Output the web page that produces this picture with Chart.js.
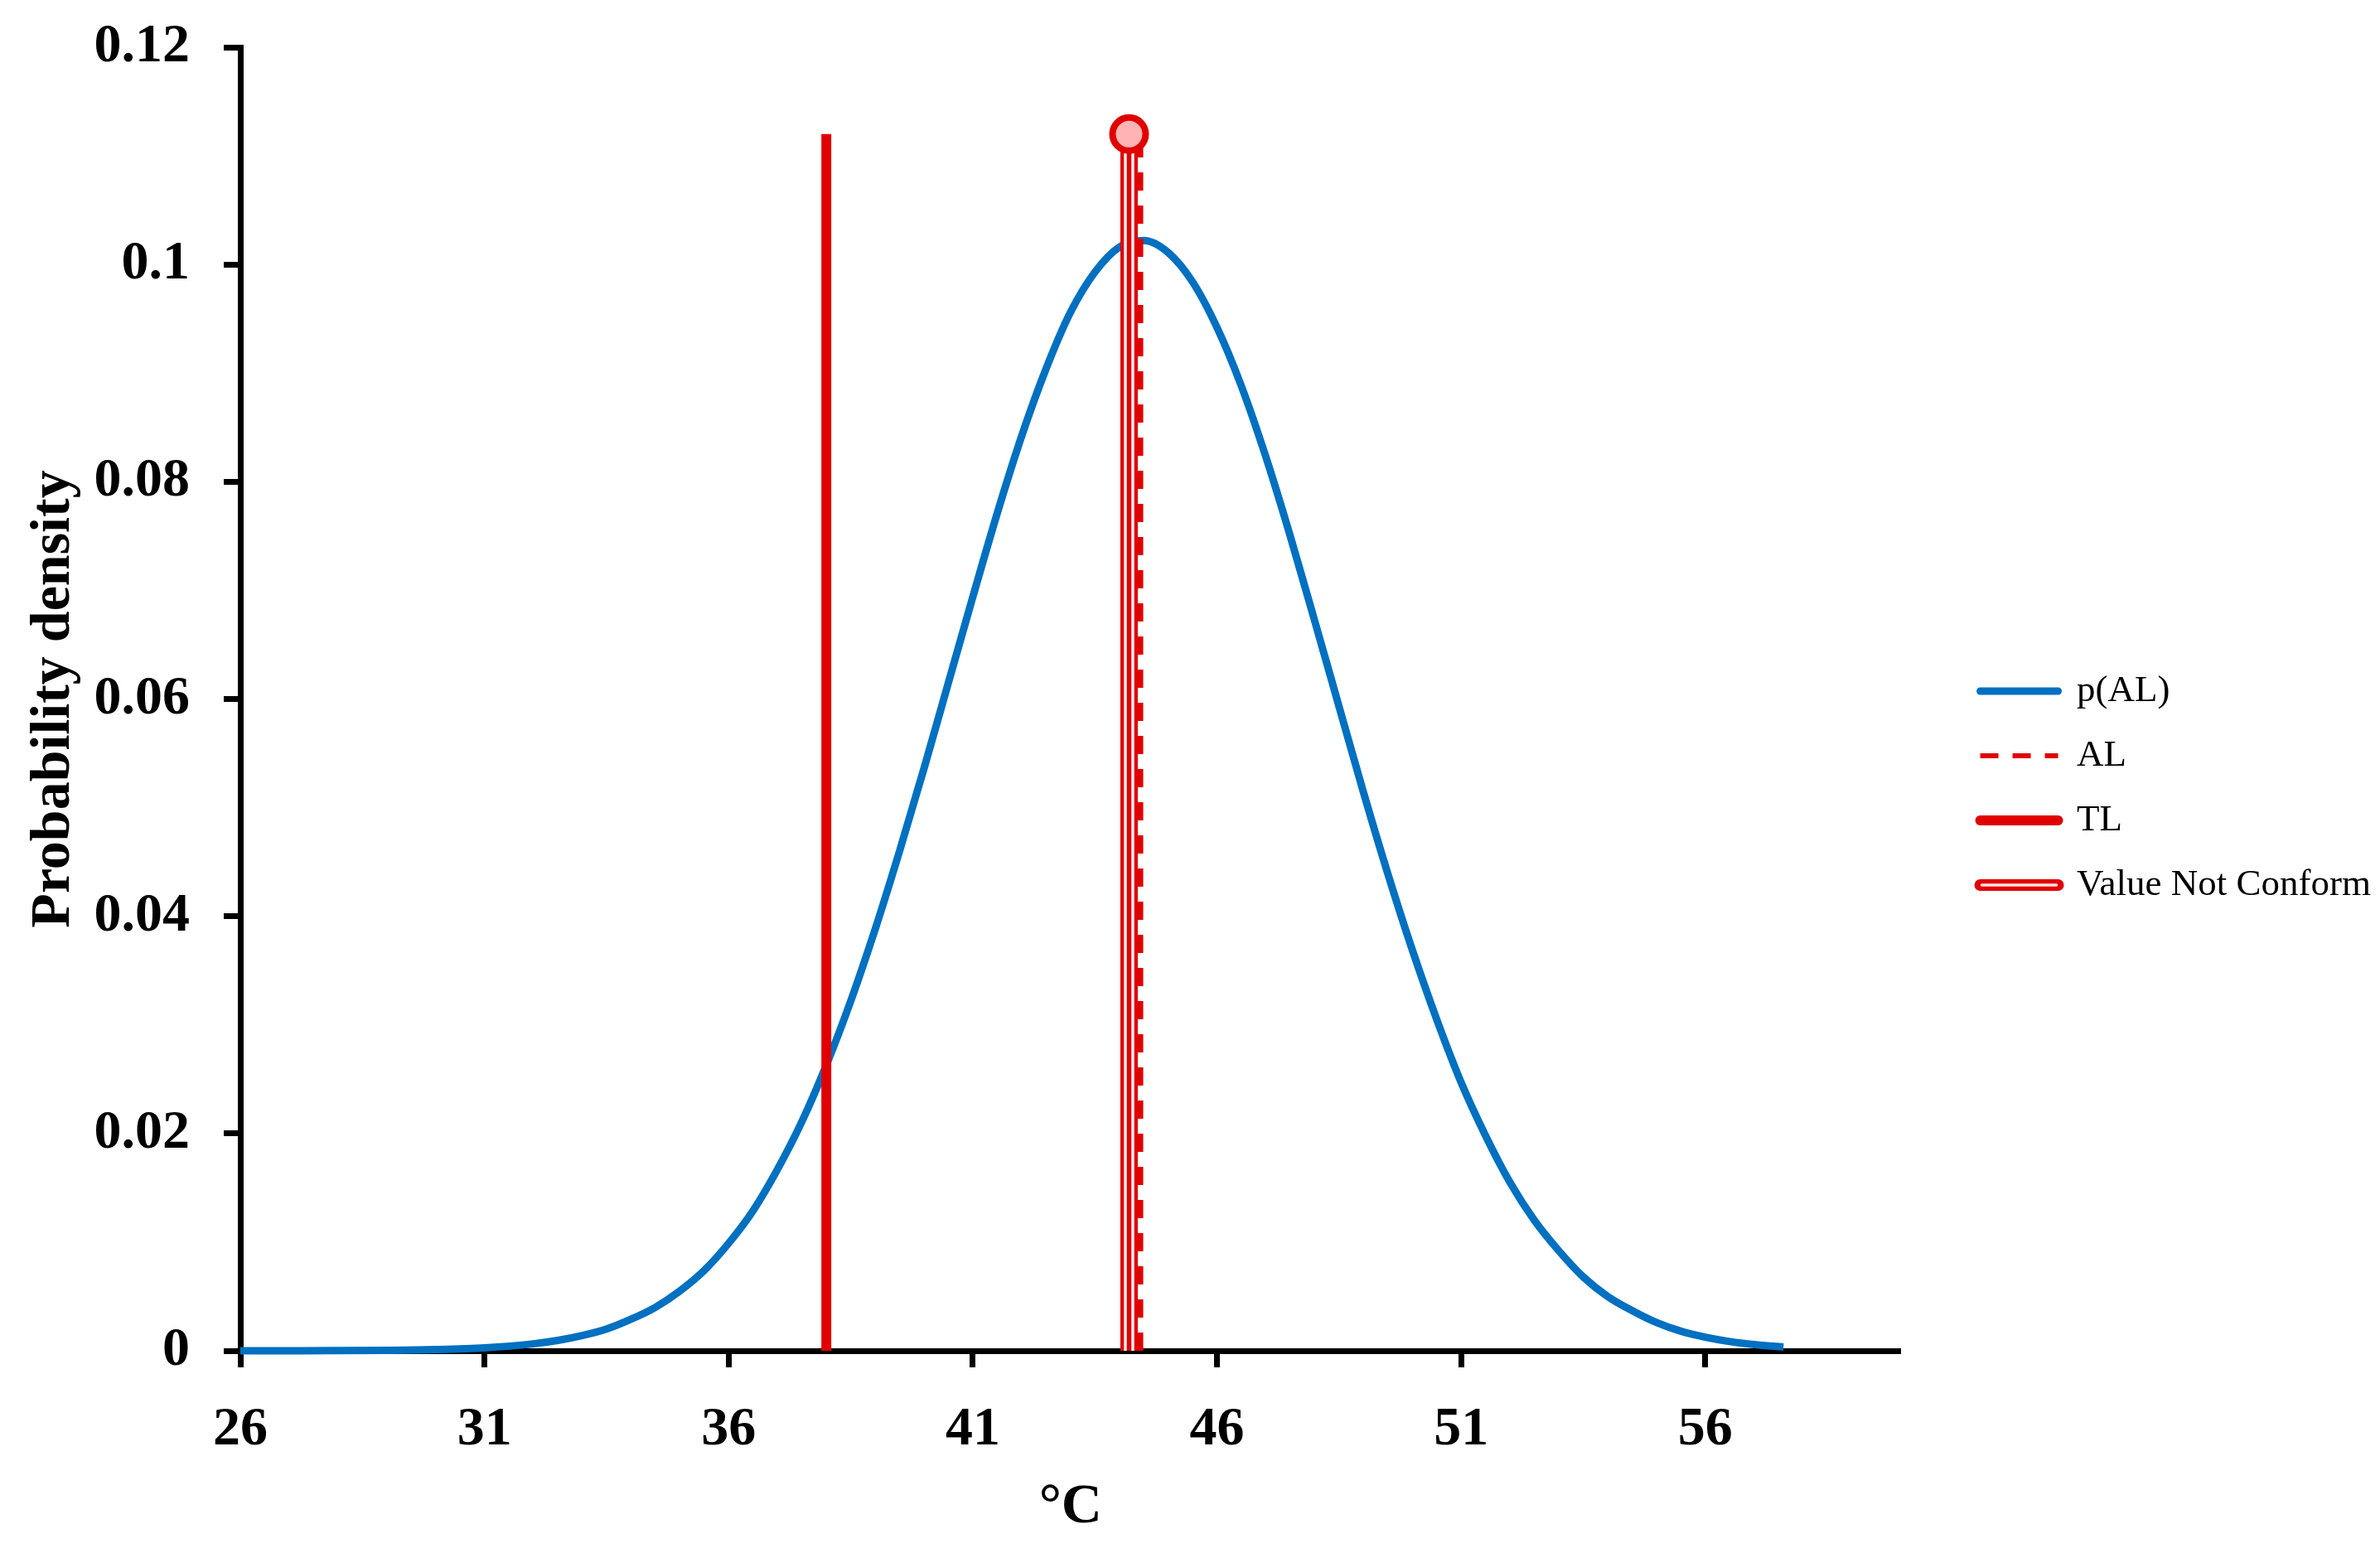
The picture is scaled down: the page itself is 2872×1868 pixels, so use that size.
<!DOCTYPE html>
<html>
<head>
<meta charset="utf-8">
<script src="https://cdn.jsdelivr.net/npm/chart.js@4/dist/chart.umd.min.js"></script>
<style>
  html, body { margin: 0; padding: 0; background: #fff; }
  #wrap { width: 2872px; height: 1868px; }
</style>
</head>
<body>
<div id="wrap"><canvas id="chart" width="2872" height="1868"></canvas></div>
<script>
// curve
const tempC = [26, 27, 28, 29, 30, 31, 32, 32.5, 33, 33.5, 34, 34.5, 35, 35.5, 36, 36.5, 37, 37.5, 38, 38.5,
               39, 39.5, 40, 40.5, 41, 41.5, 42, 42.5, 43, 43.5, 44, 44.5, 45, 45.5, 46, 46.5,
               47, 47.5, 48, 48.5, 49, 49.5, 50, 50.5, 51, 51.5, 52, 52.5, 53, 53.5, 54, 54.5,
               55, 55.5, 56, 56.5, 57, 57.6];
const density = [0.0000015, 0.000005, 0.000014, 0.000041, 0.00011, 0.00027, 0.00064, 0.00095, 0.0014, 0.0020,
                 0.0029, 0.0040, 0.0055, 0.0074, 0.0099, 0.0129, 0.0167, 0.0211, 0.0263, 0.0322,
                 0.0388, 0.0460, 0.0536, 0.0615, 0.0694, 0.0771, 0.0842, 0.0904, 0.0956, 0.0993,
                 0.1016, 0.1022, 0.1011, 0.0984, 0.0942, 0.0888,
                 0.0823, 0.0750, 0.0672, 0.0593, 0.0514, 0.0439, 0.0369, 0.0305, 0.0247, 0.0198,
                 0.0155, 0.0120, 0.0092, 0.0068, 0.0050, 0.0037,
                 0.0026, 0.0018, 0.00125, 0.00085, 0.00057, 0.00034];

const alValue = 44.43;     // AL
const tlValue = 38;        // TL
const vncValue = 44.2;     // Value Not Conform
const lineTop = 0.112;

const xTicks = [26, 31, 36, 41, 46, 51, 56];
const yTicks = [0, 0.02, 0.04, 0.06, 0.08, 0.1, 0.12];
const seriesNames = ['p(AL)', 'AL', 'TL', 'Value Not Conform'];

const BLUE = '#0070c0';
const RED = '#e00000';
const FONT = 'Liberation Serif';

const vLine = (v) => [{ x: v, y: 0 }, { x: v, y: lineTop }];

// white stripes inside the "Value Not Conform" line (double line look)
const vncStripes = {
    id: 'vncStripes',
    afterDatasetDraw(chart, args) {
        if (args.index !== 3) return;
        const { x, y } = chart.scales;
        const px = x.getPixelForValue(vncValue);
        const y0 = y.getPixelForValue(0);
        const y1 = y.getPixelForValue(lineTop);
        const ctx = chart.ctx;
        ctx.save();
        ctx.strokeStyle = '#fff0f0';
        ctx.lineWidth = 3.5;
        [-4.5, 4.5].forEach(off => {
            ctx.beginPath();
            ctx.moveTo(px + off, y0);
            ctx.lineTo(px + off, y1);
            ctx.stroke();
        });
        ctx.restore();
    },
    afterDraw(chart) {
        // same stripe on the legend symbol
        const lg = chart.legend;
        if (!lg || !lg.legendHitBoxes[3]) return;
        const hb = lg.legendHitBoxes[3];
        const box = lg.options.labels.pointStyleWidth;
        const cy = hb.top + hb.height / 2;
        const ctx = chart.ctx;
        ctx.save();
        ctx.strokeStyle = '#ffe0e0';
        ctx.lineWidth = 3.5;
        ctx.lineCap = 'round';
        ctx.beginPath();
        ctx.moveTo(hb.left + 2, cy);
        ctx.lineTo(hb.left + box - 2, cy);
        ctx.stroke();
        ctx.restore();
    }
};

// leave a gap between the plot and the legend
const legendGap = {
    id: 'legendGap',
    afterLayout(chart) {
        const lg = chart.legend;
        if (!lg) return;
        lg.left += 63;
        lg.right += 63;
        lg.top += 21;
        lg.bottom += 21;
    }
};

const legendStyle = [
    { strokeStyle: BLUE, lineWidth: 9, lineDash: [], lineCap: 'round' },
    { strokeStyle: RED, lineWidth: 6, lineDash: [22, 17], lineCap: 'butt' },
    { strokeStyle: RED, lineWidth: 12, lineDash: [], lineCap: 'round' },
    { strokeStyle: RED, lineWidth: 14, lineDash: [], lineCap: 'round' }
];

const ctx = document.getElementById('chart').getContext('2d');

const chart = new Chart(ctx, {
    type: 'line',
    data: {
        datasets: [
            {
                label: seriesNames[0],
                data: tempC.map((t, i) => ({ x: t, y: density[i] })),
                borderColor: BLUE,
                borderWidth: 9,
                pointRadius: 0,
                cubicInterpolationMode: 'monotone',
                fill: false,
                order: 5,
                clip: false
            },
            {
                label: seriesNames[1],
                data: vLine(alValue),
                borderColor: RED,
                borderWidth: 7,
                borderDash: [22, 18],
                pointRadius: 0,
                order: 1
            },
            {
                label: seriesNames[2],
                data: vLine(tlValue),
                borderColor: RED,
                borderWidth: 12,
                pointRadius: 0,
                order: 2
            },
            {
                label: seriesNames[3],
                data: vLine(vncValue),
                borderColor: RED,
                borderWidth: 21,
                pointRadius: 0,
                order: 3
            },
            {
                label: 'marker',
                data: [{ x: vncValue, y: lineTop }],
                showLine: false,
                pointRadius: 20,
                pointBorderWidth: 8,
                pointBackgroundColor: '#ffb4b4',
                pointBorderColor: RED,
                order: 0,
                clip: false
            }
        ]
    },
    options: {
        responsive: false,
        animation: false,
        layout: { padding: { left: 20, top: 0, bottom: 8, right: 64 } },
        scales: {
            x: {
                type: 'linear',
                min: 26,
                max: 60,
                afterBuildTicks: (s) => { s.ticks = xTicks.map(v => ({ value: v })); },
                afterFit: (s) => { s.height = 230; },
                grid: { drawOnChartArea: false, tickLength: 20, tickWidth: 7, tickColor: '#000' },
                border: { color: '#000', width: 7 },
                ticks: {
                    color: '#000',
                    padding: 36,
                    maxRotation: 0,
                    font: { family: FONT, size: 66, weight: 'bold' }
                },
                title: {
                    display: true,
                    text: '°C',
                    color: '#000',
                    padding: { top: 10, bottom: 0 },
                    font: { family: FONT, size: 68, weight: 'bold' }
                }
            },
            y: {
                min: 0,
                max: 0.12,
                afterBuildTicks: (s) => { s.ticks = yTicks.map(v => ({ value: v })); },
                afterFit: (s) => { s.width = 270; s.paddingTop = 57; },
                grid: { drawOnChartArea: false, tickLength: 20, tickWidth: 7, tickColor: '#000' },
                border: { color: '#000', width: 7 },
                ticks: {
                    color: '#000',
                    padding: 41,
                    font: { family: FONT, size: 66, weight: 'bold' },
                    callback: (v) => String(+v.toFixed(2))
                },
                title: {
                    display: true,
                    text: 'Probability density',
                    color: '#000',
                    padding: { top: 5, bottom: 10 },
                    font: { family: FONT, size: 68, weight: 'bold' }
                }
            }
        },
        plugins: {
            legend: {
                position: 'right',
                labels: {
                    usePointStyle: true,
                    pointStyleWidth: 94,
                    padding: 33,
                    color: '#000',
                    font: { family: FONT, size: 45 },
                    generateLabels: (c) => seriesNames.map((name, i) => ({
                        text: name,
                        datasetIndex: i,
                        pointStyle: 'line',
                        fillStyle: legendStyle[i].strokeStyle,
                        ...legendStyle[i],
                        hidden: false
                    }))
                }
            },
            tooltip: { enabled: false }
        }
    },
    plugins: [vncStripes, legendGap]
});
</script>
</body>
</html>
